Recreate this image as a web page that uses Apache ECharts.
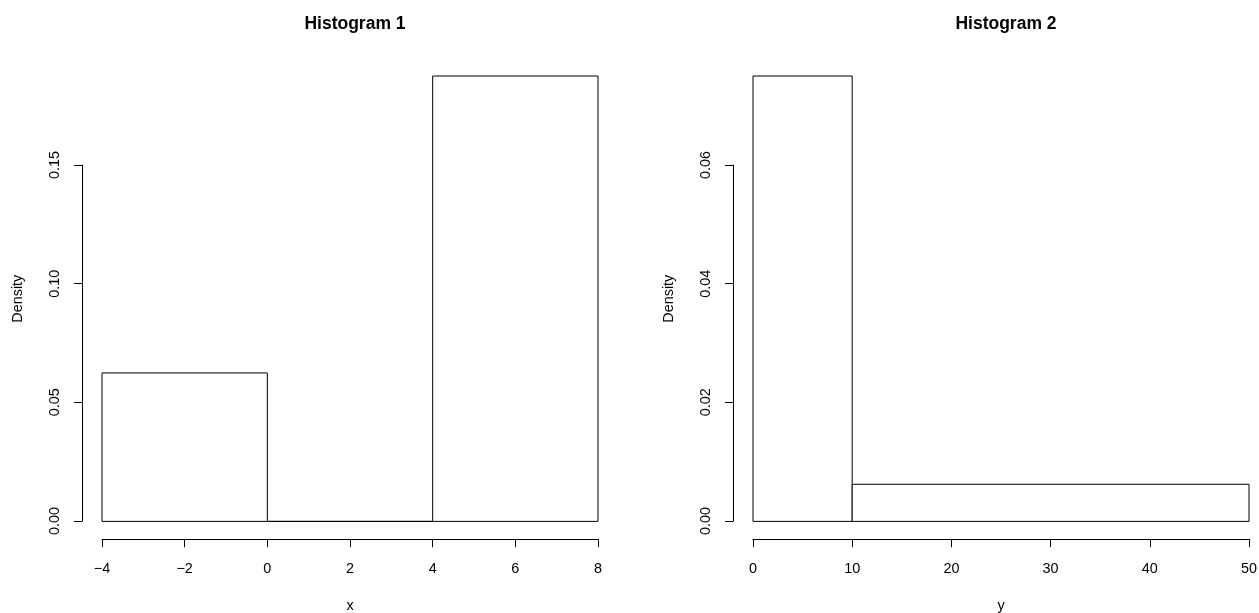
<!DOCTYPE html>
<html>
<head>
<meta charset="utf-8">
<script src="https://cdn.jsdelivr.net/npm/echarts@6/dist/echarts.min.js"></script>
<style>
  html, body { margin: 0; padding: 0; background: #fff; }
  #chart { width: 1259px; height: 613px; }
</style>
</head>
<body>
<div id="chart"></div>
<script>
// Histogram 1: bin edges and densities of x
const breaks1 = [-4, 0, 4, 8];
const density1 = [0.0625, 0, 0.1875];
const xTicks1 = [-4, -2, 0, 2, 4, 6, 8];
const yTicks1 = [0, 0.05, 0.10, 0.15];

// Histogram 2: bin edges and densities of y
const breaks2 = [0, 10, 50];
const density2 = [0.075, 0.00625];
const xTicks2 = [0, 10, 20, 30, 40, 50];
const yTicks2 = [0, 0.02, 0.04, 0.06];

const FONT = 'Liberation Sans, Arial, Helvetica, sans-serif';
const BASE = 14.4;
const INK = '#000';

function bins(breaks, dens) {
  return dens.map((d, i) => [breaks[i], breaks[i + 1], d]);
}

// one rectangle per bin, from its left edge to its right edge, 0 up to density
function renderBin(params, api) {
  const top = api.coord([api.value(0), api.value(2)]);
  const base = api.coord([api.value(1), 0]);
  return {
    type: 'rect',
    shape: { x: top[0], y: top[1], width: base[0] - top[0], height: base[1] - top[1] },
    style: { fill: '#fff', stroke: INK, lineWidth: 1 }
  };
}

const minus = v => String(v).replace('-', '\u2212');

// Plot regions (data extent padded by 4%, like R's default axis style)
const panels = [
  { left: 102, width: 496, breaks: breaks1, dens: density1, xTicks: xTicks1, yTicks: yTicks1, xName: 'x', title: 'Histogram 1', cx: 350 },
  { left: 753, width: 496, breaks: breaks2, dens: density2, xTicks: xTicks2, yTicks: yTicks2, xName: 'y', title: 'Histogram 2', cx: 1001 }
];

const TOP = 58.2, REGION_H = 481;     // padded plot region
const ZERO_Y = 521, TICK_TOP_Y = 165; // span of the drawn y axis

const grid = [], xAxis = [], yAxis = [], series = [], title = [];

panels.forEach((p, k) => {
  const xMin = p.xTicks[0], xMax = p.xTicks[p.xTicks.length - 1];
  const yMaxData = Math.max(...p.dens);
  const yPad = yMaxData * 0.04;
  const yTop = p.yTicks[p.yTicks.length - 1];
  const gData = grid.length;

  // data grid
  grid.push({ left: p.left, width: p.width, top: TOP, height: REGION_H, containLabel: false, outerBoundsMode: 'none' });
  xAxis.push({
    type: 'value', gridIndex: gData, min: xMin, max: xMax, interval: p.xTicks[1] - p.xTicks[0],
    name: p.xName, nameLocation: 'middle', nameGap: 60,
    nameTextStyle: { fontFamily: FONT, fontSize: BASE, color: INK },
    axisLine: { show: true, onZero: false, lineStyle: { color: INK, width: 1 } },
    axisTick: { show: true, length: 8, lineStyle: { color: INK, width: 1 } },
    axisLabel: { fontFamily: FONT, fontSize: BASE, color: INK, margin: 23, formatter: minus, showMinLabel: true, showMaxLabel: true },
    splitLine: { show: false }
  });
  yAxis.push({
    type: 'value', gridIndex: gData, min: -yPad, max: yMaxData + yPad,
    name: 'Density', nameLocation: 'middle', nameGap: 77,
    nameTextStyle: { fontFamily: FONT, fontSize: BASE, color: INK },
    axisLine: { show: false, onZero: false }, axisTick: { show: false }, axisLabel: { show: false }, splitLine: { show: false }
  });
  series.push({
    type: 'custom', xAxisIndex: gData, yAxisIndex: gData,
    data: bins(p.breaks, p.dens), encode: { x: [0, 1], y: 2 },
    renderItem: renderBin, silent: true, clip: false
  });

  // y axis drawn only across its tick range
  const gAxis = grid.length;
  grid.push({ left: p.left, width: p.width, top: TICK_TOP_Y, height: ZERO_Y - TICK_TOP_Y, containLabel: false, outerBoundsMode: 'none' });
  xAxis.push({ type: 'value', gridIndex: gAxis, show: false, min: 0, max: 1 });
  yAxis.push({
    type: 'value', gridIndex: gAxis, min: 0, max: yTop, interval: p.yTicks[1] - p.yTicks[0], offset: 20,
    axisLine: { show: true, onZero: false, lineStyle: { color: INK, width: 1 } },
    axisTick: { show: true, length: 8, lineStyle: { color: INK, width: 1 } },
    axisLabel: { fontFamily: FONT, fontSize: BASE, color: INK, rotate: 90, margin: 20,
                 formatter: v => v.toFixed(2), showMinLabel: true, showMaxLabel: true },
    splitLine: { show: false }
  });

  title.push({
    text: p.title, left: p.cx, top: 10, textAlign: 'center',
    textStyle: { fontFamily: FONT, fontSize: 17.5, fontWeight: 'bold', color: INK }
  });
});

const chart = echarts.init(document.getElementById('chart'), null, { renderer: 'canvas' });
chart.setOption({
  animation: false,
  backgroundColor: '#fff',
  title, grid, xAxis, yAxis, series
});
</script>
</body>
</html>
